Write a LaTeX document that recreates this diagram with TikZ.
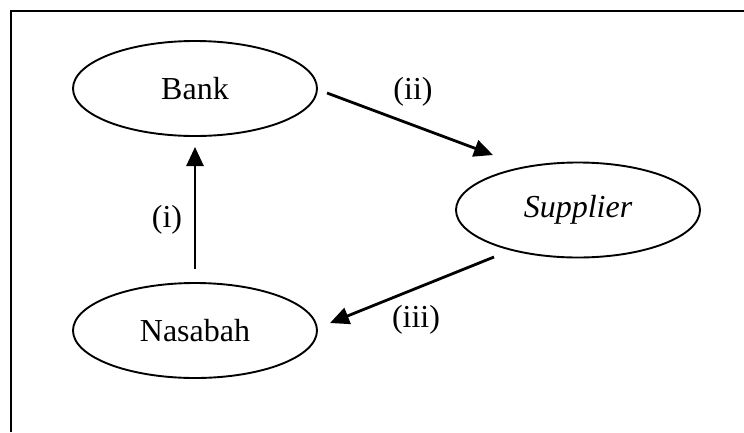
\documentclass[tikz,border=0pt]{standalone}
\usepackage{fontspec}
\setmainfont{Liberation Serif}
\usetikzlibrary{arrows.meta,shapes.geometric}
\begin{document}
\begin{tikzpicture}[x=1pt,y=-1pt,
  ell/.style={draw,line width=1.9pt,ellipse,minimum width=244pt,minimum height=95pt,inner sep=0pt,font=\fontsize{32}{37}\selectfont},
  conn/.style={line width=2.8pt,-{Triangle[length=19pt,width=17pt]}},
  lbl/.style={font=\fontsize{32}{37}\selectfont,inner sep=0pt}]
\useasboundingbox (0,0) rectangle (744,432);
\draw[line width=2.2pt] (11,432) -- (11,11) -- (744,11);
\node[ell] (bank) at (195,88.5) {Bank};
\node[ell] (sup) at (578,210) {\itshape Supplier};
\node[ell] (nas) at (195,330.5) {Nasabah};
\coordinate (i0) at (195,269);
\coordinate (i1) at (195,147);
\coordinate (ii0) at (327,93);
\coordinate (ii1) at (493,155);
\coordinate (iii0) at (494,257);
\coordinate (iii1) at (330,323);
\draw[conn] (i0) -- (i1);
\draw[conn] (ii0) -- (ii1);
\draw[conn] (iii0) -- (iii1);
\node[lbl] (li) at (167,220) {(i)};
\node[lbl] (lii) at (413,92) {(ii)};
\node[lbl] (liii) at (416,320) {(iii)};
\end{tikzpicture}
\end{document}
